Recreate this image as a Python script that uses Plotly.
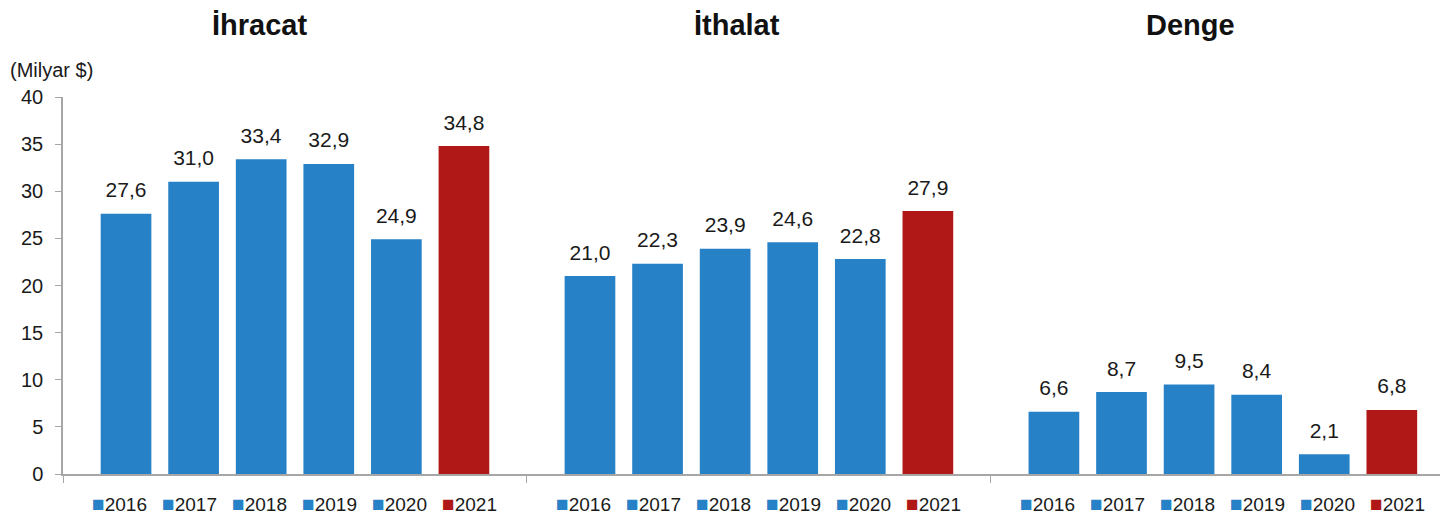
import plotly.graph_objects as go

categories = ["İhracat", "İthalat", "Denge"]
years = ["2016", "2017", "2018", "2019", "2020", "2021"]
values = {
    "2016": [27.6, 21.0, 6.6],
    "2017": [31.0, 22.3, 8.7],
    "2018": [33.4, 23.9, 9.5],
    "2019": [32.9, 24.6, 8.4],
    "2020": [24.9, 22.8, 2.1],
    "2021": [34.8, 27.9, 6.8],
}
y_ticks = [0, 5, 10, 15, 20, 25, 30, 35, 40]

BLUE = "#2781C6"
RED = "#B01818"
colors = {y: (RED if y == "2021" else BLUE) for y in years}
FONT = "Liberation Sans, Arial, sans-serif"
TXT = "#1a1a1a"
LABEL_GAP = 1.0  # transparent spacer (data units) between bar top and its label
LEGEND_STRIDE = 70  # px between legend entries under each group

fig = go.Figure()
for yr in years:
    fig.add_trace(go.Bar(
        x=categories, y=values[yr], name=yr, offsetgroup=yr,
        marker=dict(color=colors[yr], line=dict(width=0)),
        showlegend=False, hoverinfo="x+y+name",
    ))
    # invisible spacer carrying the value label a little above the bar
    fig.add_trace(go.Bar(
        x=categories, y=[LABEL_GAP] * len(categories), base=values[yr],
        offsetgroup=yr, marker=dict(color="rgba(0,0,0,0)", line=dict(width=0)),
        texttemplate="%{customdata:.1f}",
        customdata=values[yr], textposition="outside",
        textfont=dict(family=FONT, size=21, color=TXT),
        cliponaxis=False, showlegend=False, hoverinfo="skip",
    ))

# legend rows repeated under each group
n = len(years)
for cat in categories:
    for i, yr in enumerate(years):
        fig.add_annotation(
            x=cat, xref="x", y=-0.077, yref="paper",
            xshift=(i - (n - 1) / 2) * LEGEND_STRIDE,
            text=f"<span style='color:{colors[yr]};font-size:21px'>■</span>{yr}",
            showarrow=False, xanchor="center", yanchor="middle",
            font=dict(family=FONT, size=19, color=TXT),
        )

fig.update_layout(
    width=1440, height=523,
    margin=dict(l=63, r=0, t=97, b=49),
    plot_bgcolor="white", paper_bgcolor="white",
    separators=", ",
    barmode="group", bargap=0.126, bargroupgap=0.25,
    showlegend=False,
    xaxis=dict(
        type="category", range=[-0.5, 2.468],
        showline=True, linecolor="#A6A6A6", linewidth=1.5,
        ticks="outside", tickson="boundaries", ticklen=7, tickcolor="#A6A6A6",
        showticklabels=False, showgrid=False,
    ),
    yaxis=dict(
        range=[0, 40], tickvals=y_ticks,
        showline=True, linecolor="#A6A6A6", linewidth=1.5,
        ticks="outside", ticklen=6, tickcolor="#A6A6A6",
        tickfont=dict(family=FONT, size=20, color=TXT),
        ticklabelstandoff=8, showgrid=False, zeroline=False,
    ),
)

titles_x = [259, 737, 1190]
for t, px in zip(categories, titles_x):
    fig.add_annotation(text="<b>" + t + "</b>", xref="paper", yref="paper",
                       x=(px - 63) / 1377, y=(474 - 25) / 377, showarrow=False,
                       xanchor="center", yanchor="middle",
                       font=dict(family=FONT, size=29, color="#111111"))

fig.add_annotation(text="(Milyar $)", xref="paper", yref="paper",
                   x=(8 - 63) / 1377, y=(474 - 70) / 377, showarrow=False,
                   xanchor="left", yanchor="middle",
                   font=dict(family=FONT, size=20, color=TXT))

fig.write_html("out.html", config={"displayModeBar": False},
               post_script="document.body.style.margin='0';")
